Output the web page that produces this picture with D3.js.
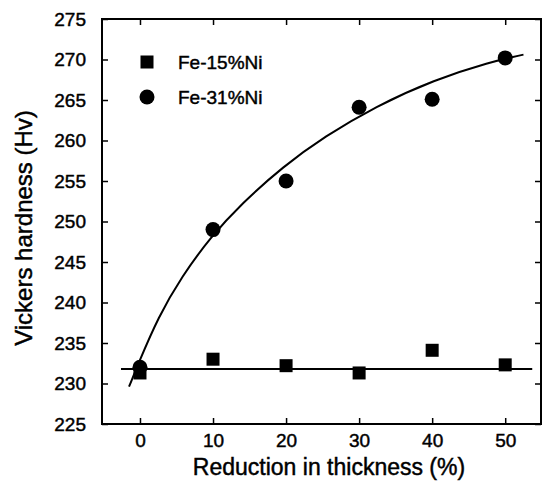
<!DOCTYPE html>
<html>
<head>
<meta charset="utf-8">
<script src="https://cdn.jsdelivr.net/npm/d3@7"></script>
<style>
  body { margin: 0; background: #fff; }
  svg text { font-family: "Liberation Sans", Arial, sans-serif; fill: #000; stroke: #000; stroke-width: 0.45px; }
</style>
</head>
<body>
<svg id="chart" width="544" height="488"></svg>
<script>
// reduction in thickness (%)
var reduction = [0, 10, 20, 30, 40, 50];
// Vickers hardness readings
var fe15Ni = [231.3, 233.0, 232.2, 231.3, 234.1, 232.3];
var fe31Ni = [232.0, 249.0, 255.0, 264.1, 265.1, 270.2];

// fitted lines
var fit15X = [-2.6, 53.7];
var fit15Y = [231.8, 231.8];
var fit31X = [-1.5, -0.2, 2.5, 5.7, 9.7, 13.9, 19.6, 25.3, 32.2, 40.3, 47.9, 52.5];
var fit31Y = [229.6, 232.5, 238.2, 243.2, 248.1, 252.2, 256.8, 260.5, 264.2, 267.5, 269.7, 270.6];

var xTicks = [0, 10, 20, 30, 40, 50];
var yTicks = [225, 230, 235, 240, 245, 250, 255, 260, 265, 270, 275];
var legendLabels = ["Fe-15%Ni", "Fe-31%Ni"];

var svg = d3.select("#chart");
// plot box (note: "top" is a reserved window property, so use own names)
var boxL = 102, boxR = 541, boxT = 19, boxB = 424;

var x = d3.scaleLinear().domain([-5.2, 54.9]).range([boxL, boxR]);
var y = d3.scaleLinear().domain([225, 275]).range([boxB, boxT]);

// axes, ticks pointing inward
var gBottom = svg.append("g").attr("transform", "translate(0," + boxB + ")")
  .call(d3.axisBottom(x).tickValues(xTicks).tickSizeInner(-6).tickSizeOuter(0).tickPadding(10));
var gTop = svg.append("g").attr("transform", "translate(0," + boxT + ")")
  .call(d3.axisTop(x).tickValues(xTicks).tickSizeInner(-6).tickSizeOuter(0).tickFormat(""));
var gLeft = svg.append("g").attr("transform", "translate(" + boxL + ",0)")
  .call(d3.axisLeft(y).tickValues(yTicks).tickSizeInner(-6).tickSizeOuter(0).tickPadding(16));
var gRight = svg.append("g").attr("transform", "translate(" + boxR + ",0)")
  .call(d3.axisRight(y).tickValues(yTicks).tickSizeInner(-6).tickSizeOuter(0).tickFormat(""));

[gBottom, gTop, gLeft, gRight].forEach(function (g) {
  g.select(".domain").remove();
  g.selectAll(".tick line").attr("stroke", "#000").attr("stroke-width", 1.5);
  g.selectAll(".tick text").attr("font-size", 19).attr("fill", "#000");
});

svg.append("rect")
  .attr("x", boxL).attr("y", boxT)
  .attr("width", boxR - boxL).attr("height", boxB - boxT)
  .attr("fill", "none").attr("stroke", "#000").attr("stroke-width", 2);

// axis titles
svg.append("text")
  .attr("x", 329).attr("y", 475)
  .attr("text-anchor", "middle")
  .attr("font-size", 23)
  .text("Reduction in thickness (%)");

svg.append("text")
  .attr("transform", "translate(32,228) rotate(-90)")
  .attr("text-anchor", "middle")
  .attr("font-size", 24)
  .text("Vickers hardness (Hv)");

// fit lines
var line = d3.line().x(function (d) { return x(d[0]); }).y(function (d) { return y(d[1]); });

svg.append("path")
  .datum(d3.zip(fit15X, fit15Y))
  .attr("d", line)
  .attr("fill", "none").attr("stroke", "#000").attr("stroke-width", 2);

svg.append("path")
  .datum(d3.zip(fit31X, fit31Y))
  .attr("d", line.curve(d3.curveBasis))
  .attr("fill", "none").attr("stroke", "#000").attr("stroke-width", 2);

// markers
var sq = 13, rad = 7.5;
svg.append("g").selectAll("rect")
  .data(d3.zip(reduction, fe15Ni))
  .join("rect")
  .attr("x", function (d) { return x(d[0]) - sq / 2; })
  .attr("y", function (d) { return y(d[1]) - sq / 2; })
  .attr("width", sq).attr("height", sq)
  .attr("fill", "#000");

svg.append("g").selectAll("circle")
  .data(d3.zip(reduction, fe31Ni))
  .join("circle")
  .attr("cx", function (d) { return x(d[0]); })
  .attr("cy", function (d) { return y(d[1]); })
  .attr("r", rad)
  .attr("fill", "#000");

// legend
var legend = svg.append("g");
legend.append("rect")
  .attr("x", 147 - sq / 2).attr("y", 62 - sq / 2)
  .attr("width", sq).attr("height", sq).attr("fill", "#000");
legend.append("circle")
  .attr("cx", 147).attr("cy", 97).attr("r", rad).attr("fill", "#000");
legend.selectAll("text")
  .data(legendLabels)
  .join("text")
  .attr("x", 178)
  .attr("y", function (d, i) { return 62 + i * 35; })
  .attr("dy", "0.35em")
  .attr("font-size", 19)
  .text(function (d) { return d; });
</script>
</body>
</html>
